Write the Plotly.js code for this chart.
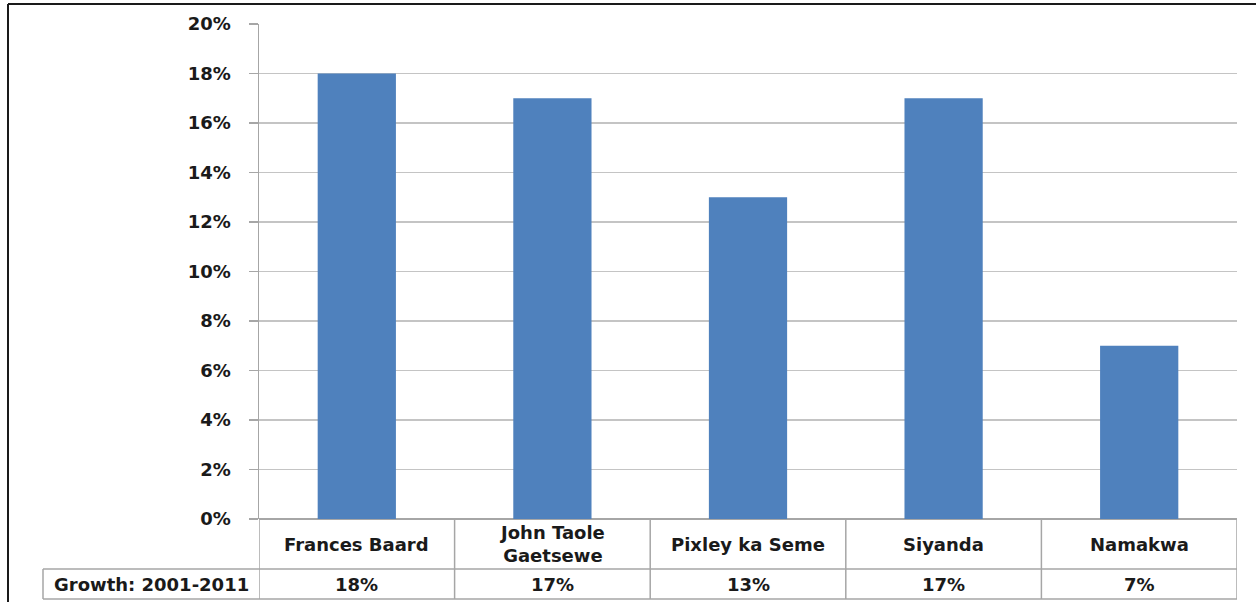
<!DOCTYPE html>
<html>
<head>
<meta charset="utf-8">
<script src="https://cdn.plot.ly/plotly-3.0.1.min.js"></script>
<style>html,body{margin:0;padding:0;background:#fff;}#chart{width:1256px;height:602px;}</style>
</head>
<body>
<div id="chart"></div>
<script>
const categories = ["Frances Baard", "John Taole Gaetsewe", "Pixley ka Seme", "Siyanda", "Namakwa"];
const categoryLabels = ["Frances Baard", "John Taole<br>Gaetsewe", "Pixley ka Seme", "Siyanda", "Namakwa"];
const growth = [0.18, 0.17, 0.13, 0.17, 0.07];
const seriesName = "Growth: 2001-2011";
const yTickValues = [0, 0.02, 0.04, 0.06, 0.08, 0.10, 0.12, 0.14, 0.16, 0.18, 0.20];

const FONT = "DejaVu Sans, Verdana, sans-serif";
const L = 259, R = 19, T = 24, B = 83;
const W = 1256, H = 602;
const pw = W - L - R, ph = H - T - B;
const px = v => (v - L) / pw;            // pixel x -> paper x
const py = v => (H - B - v) / ph;        // pixel y -> paper y
const lineCol = "#a6a6a6";

const shapes = [];
const row1Bottom = py(569), row2Bottom = py(599);
shapes.push({type:"line", xref:"paper", yref:"paper", x0:px(43), x1:1, y0:row1Bottom, y1:row1Bottom, line:{color:lineCol, width:1.5}});
shapes.push({type:"line", xref:"paper", yref:"paper", x0:px(43), x1:1, y0:row2Bottom, y1:row2Bottom, line:{color:lineCol, width:1.5}});
shapes.push({type:"line", xref:"paper", yref:"paper", x0:px(43), x1:px(43), y0:row1Bottom, y1:row2Bottom, line:{color:lineCol, width:1.5}});
for (let i = 0; i <= categories.length; i++) {
  shapes.push({type:"line", xref:"x", yref:"paper", x0:i-0.5, x1:i-0.5, y0:0, y1:row2Bottom, line:{color:lineCol, width:1.5}});
}
shapes.push({type:"line", xref:"paper", yref:"paper", x0:px(8), x1:px(1300), y0:py(4), y1:py(4), line:{color:"#1a1a1a", width:2}});
shapes.push({type:"line", xref:"paper", yref:"paper", x0:px(8), x1:px(8), y0:py(4), y1:py(700), line:{color:"#1a1a1a", width:2}});

const annotations = [];
const txtFont = {family: FONT, size: 18, color: "#1a1a1a", weight: 700};
categories.forEach((c, i) => {
  annotations.push({xref:"x", yref:"paper", x:i, y:py(544), text:"<b>"+categoryLabels[i]+"</b>", showarrow:false, font:txtFont, xanchor:"center", yanchor:"middle"});
  annotations.push({xref:"x", yref:"paper", x:i, y:py(584), text:"<b>"+Math.round(growth[i]*100)+"%</b>", showarrow:false, font:txtFont, xanchor:"center", yanchor:"middle"});
});
annotations.push({xref:"paper", yref:"paper", x:px(151), y:py(584), text:"<b>"+seriesName+"</b>", showarrow:false, font:txtFont, xanchor:"center", yanchor:"middle"});

const data = [{
  type: "bar",
  x: categories,
  y: growth,
  name: seriesName,
  marker: {color: "#4f81bd", line:{width:0}},
  hoverinfo: "x+y"
}];

const layout = {
  width: W, height: H,
  margin: {l: L, r: R, t: T, b: B, pad: 0},
  paper_bgcolor: "#fff",
  plot_bgcolor: "#fff",
  showlegend: false,
  bargap: 0.6,
  font: {family: FONT, color: "#1a1a1a"},
  xaxis: {
    type: "category",
    showticklabels: false,
    ticks: "",
    showgrid: false,
    zeroline: false,
    showline: false,
    range: [-0.5, categories.length - 0.5]
  },
  yaxis: {
    range: [0, 0.2],
    tickvals: yTickValues,
    tickformat: ".0%",
    ticks: "outside",
    ticklen: 9,
    tickcolor: lineCol,
    tickwidth: 1.5,
    ticklabelstandoff: 14,
    showline: true,
    linecolor: lineCol,
    linewidth: 1.5,
    showgrid: true,
    gridcolor: "#c4c4c4",
    gridwidth: 1.5,
    zeroline: true,
    zerolinecolor: lineCol,
    zerolinewidth: 1.5,
    tickfont: {family: FONT, size: 18, color: "#1a1a1a", weight: 700}
  },
  shapes: shapes,
  annotations: annotations
};

Plotly.newPlot("chart", data, layout, {displayModeBar: false, staticPlot: true});
</script>
</body>
</html>
